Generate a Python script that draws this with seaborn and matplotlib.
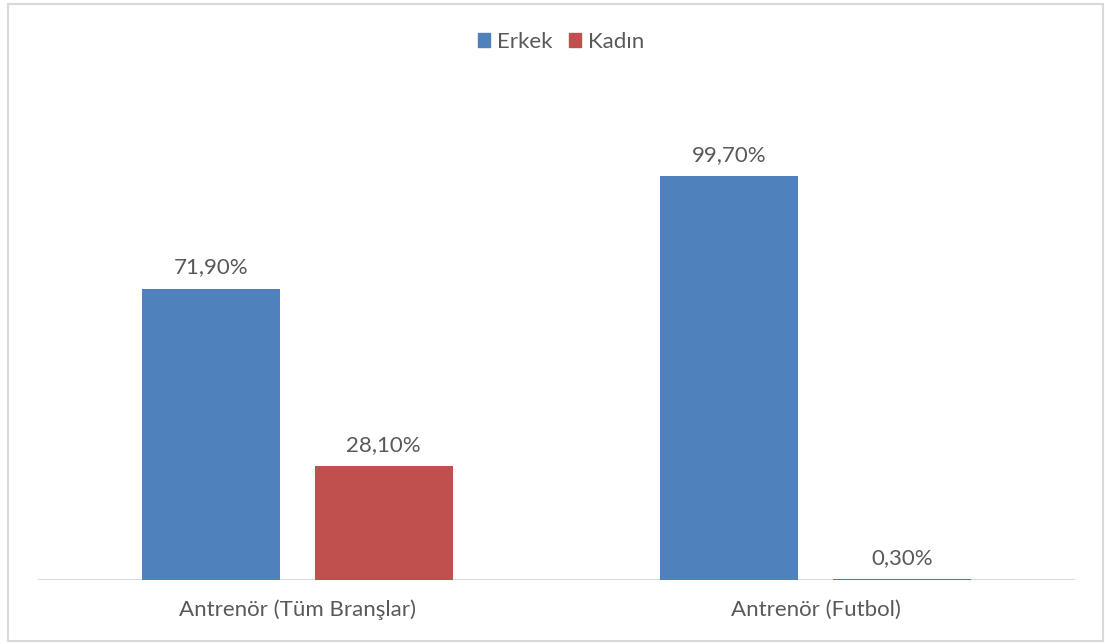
import pandas as pd
import seaborn as sns
import matplotlib.pyplot as plt
from matplotlib.patches import Rectangle

# values
categories = ["Antrenör (Tüm Branşlar)", "Antrenör (Futbol)"]
erkek = [71.9, 99.7]
kadin = [28.1, 0.3]
series = ["Erkek", "Kadın"]
colors = ["#4F81BD", "#C0504D"]

df = pd.DataFrame({
    "kategori": categories * 2,
    "cinsiyet": [series[0]] * 2 + [series[1]] * 2,
    "oran": erkek + kadin,
})

sns.set_style("white")
plt.rcParams["font.family"] = ["Lato", "DejaVu Sans"]
txt = "#595959"
fs = 16

fig = plt.figure(figsize=(11.05, 6.44), dpi=100)
ax = fig.add_axes([38 / 1105, 64 / 644, 1037 / 1105, 500 / 644])

ax.axhline(0, color="#d9d9d9", lw=1.5, zorder=0)
sns.barplot(data=df, x="kategori", y="oran", hue="cinsiyet",
            palette=colors, saturation=1, width=0.667, gap=0.2,
            linewidth=0, ax=ax, legend=False, zorder=2)

for cont in ax.containers:
    ax.bar_label(cont, labels=[f"{v:.2f}%".replace(".", ",") for v in cont.datavalues],
                 padding=8, fontsize=fs, color=txt)

ax.set_xlim(-0.5, 1.5)
ax.set_ylim(0, 123.4)
ax.set_xlabel("")
ax.set_ylabel("")
ax.set_yticks([])
ax.tick_params(axis="x", length=0, pad=14, labelsize=fs, labelcolor=txt)
for s in ax.spines.values():
    s.set_visible(False)

handles = [Rectangle((0, 0), 1, 1, color=c) for c in colors]
fig.legend(handles, series, loc="center", bbox_to_anchor=(561 / 1105, 1 - 42 / 644),
           ncol=2, frameon=False, fontsize=fs, labelcolor=txt,
           handlelength=0.55, handleheight=0.55, handletextpad=0.3, columnspacing=0.75)

fig.patches.append(Rectangle((8 / 1105, 3 / 644), 1095 / 1105, 637 / 644,
                             transform=fig.transFigure, fill=False,
                             edgecolor="#d9d9d9", lw=1.5))

fig.savefig("out.png", dpi=100)
